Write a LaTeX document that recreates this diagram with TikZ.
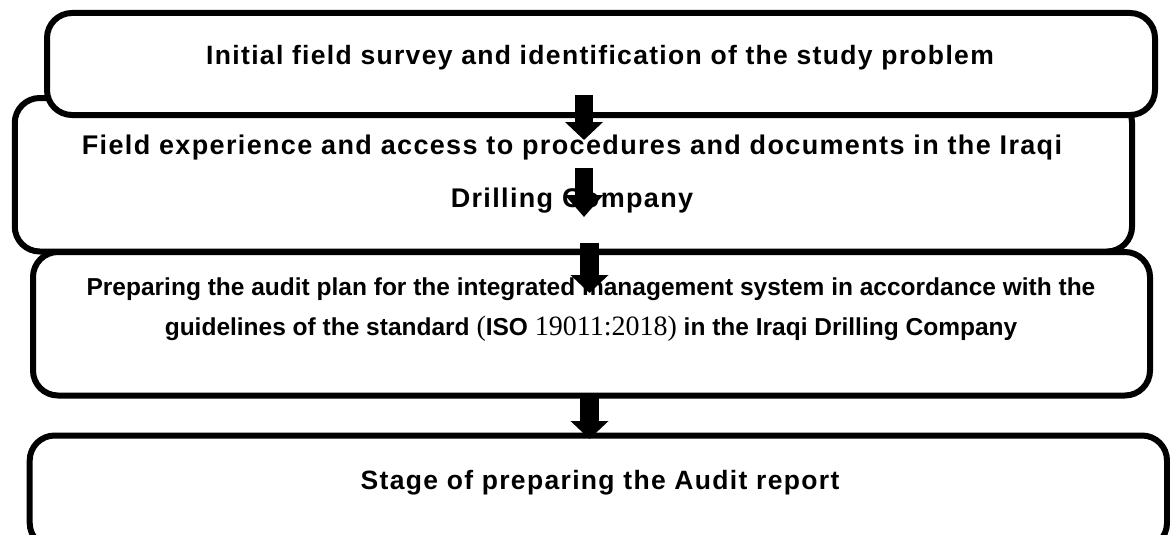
\documentclass[tikz,border=0pt]{standalone}
\usepackage{fontspec}
\setmainfont{Liberation Sans}
\newfontfamily\trackedsans[LetterSpace=5]{Liberation Sans}
\newfontfamily\numserif{Liberation Serif}
\usetikzlibrary{arrows.meta}
% serif figures used in the standard reference
\newcommand\isonum[1]{{\numserif\mdseries\fontsize{28}{30}\selectfont #1}}

\begin{document}
\begin{tikzpicture}[x=1pt,y=-1pt,
  stagebox/.style={rectangle, draw=black, line width=6pt, fill=white,
    rounded corners=25pt, inner sep=0pt},
  caption/.style={anchor=base, inner sep=0pt, align=center},
  bigcaption/.style={caption, font=\trackedsans\bfseries\fontsize{26.5}{30}\selectfont},
  widecaption/.style={caption, font=\trackedsans\bfseries\fontsize{27}{30}\selectfont},
  smallcaption/.style={caption, font=\bfseries\fontsize{24.5}{28}\selectfont},
  flowarrow/.style={line width=18.5pt, -{Triangle[width=37pt,length=18pt]}}]
\useasboundingbox (0,0) rectangle (1170,535);

% stage boxes (the second lies under the first)
\node[stagebox, minimum width=1117.3pt, minimum height=153.5pt] (s2) at (573.4,174.75) {};
\node[stagebox, minimum width=1108pt, minimum height=102pt] (s1) at (601,64) {};
\node[stagebox, minimum width=1117pt, minimum height=143.5pt] (s3) at (591.5,323.75) {};
\node[stagebox, minimum width=1137.3pt, minimum height=112.5pt] (s4) at (598.35,491.75) {};

% stage texts
\node[bigcaption] (t1) at (600,64.3) {Initial field survey and identification of the study problem};
\node[widecaption] (t2a) at (572,154) {Field experience and access to procedures and documents in the Iraqi};
\node[widecaption] (t2b) at (572,207) {Drilling Company};
\node[smallcaption] (t3a) at (591,295) {Preparing the audit plan for the integrated management system in accordance with the};
\node[smallcaption] (t3b) at (591,335) {guidelines of the standard \isonum{(}ISO \isonum{19011:2018)} in the Iraqi Drilling Company};
\node[bigcaption] (t4) at (600,489.5) {Stage of preparing the Audit report};

% block arrows between stages
\coordinate (a1top) at (584,95);
\coordinate (a1tip) at (584,140);
\coordinate (a2top) at (584,168);
\coordinate (a2tip) at (584,217);
\coordinate (a3top) at (589.5,243);
\coordinate (a3tip) at (589.5,293);
\coordinate (a4top) at (589.5,397);
\coordinate (a4tip) at (589.5,439);
\draw[flowarrow] (a1top) -- (a1tip);
\draw[flowarrow, -{Triangle[width=37pt,length=22pt]}] (a2top) -- (a2tip);
\draw[flowarrow] (a3top) -- (a3tip);
\draw[flowarrow] (a4top) -- (a4tip);
\end{tikzpicture}
\end{document}
